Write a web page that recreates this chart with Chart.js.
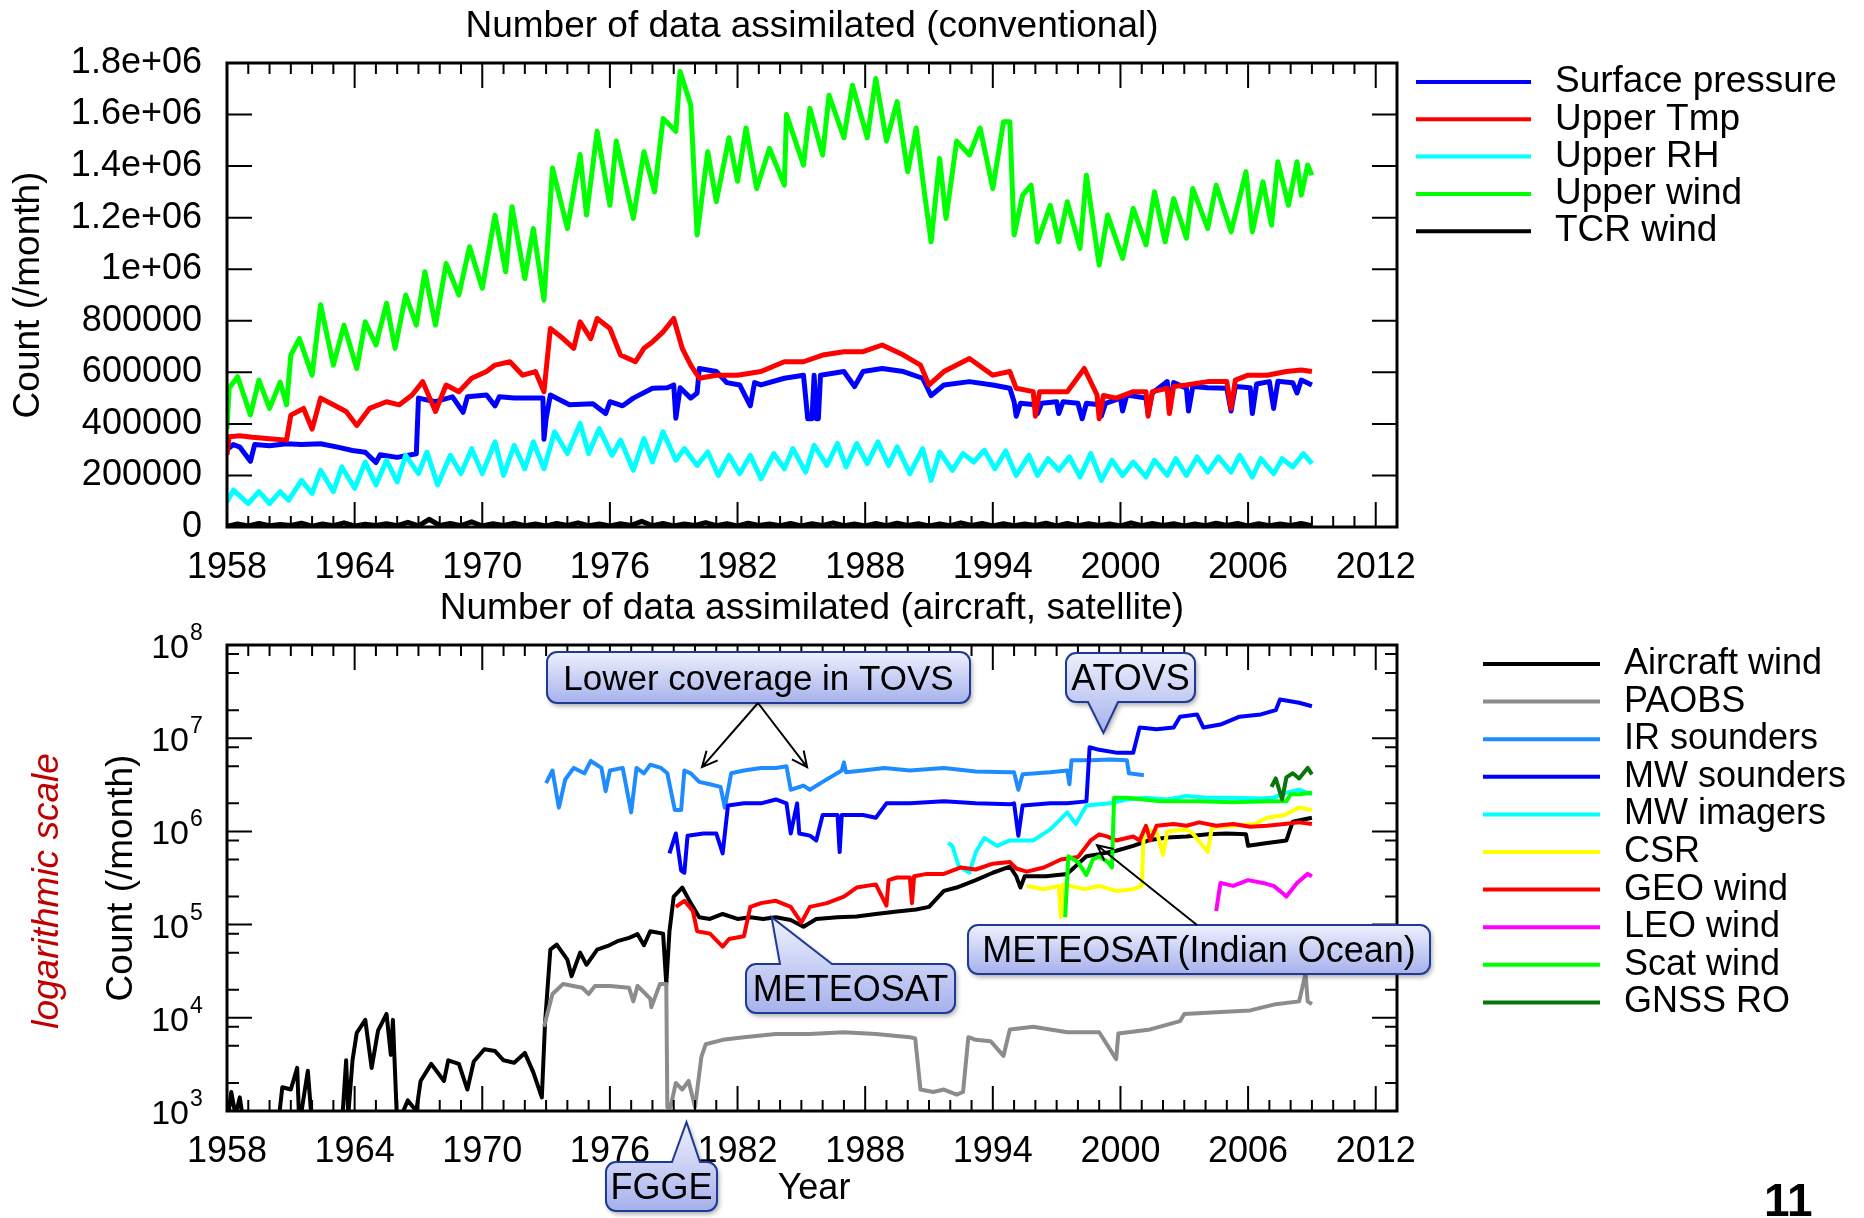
<!DOCTYPE html>
<html>
<head>
<meta charset="utf-8">
<title>Number of data assimilated</title>
<script src="https://cdn.jsdelivr.net/npm/chart.js@4.4.1/dist/chart.umd.min.js"></script>
<style>
  html, body { margin: 0; padding: 0; background: #fff; }
  #page { position: relative; width: 1864px; height: 1218px; overflow: hidden; background: #fff; }
  #conv { position: absolute; left: 0; top: 0; }
  #sat { position: absolute; left: 0; top: 580px; }
</style>
</head>
<body>
<div id="page">
  <canvas id="conv" width="1864" height="600"></canvas>
  <canvas id="sat" width="1864" height="638"></canvas>
</div>
<script>
// SECTION: data
const FONT = "'Liberation Sans', Arial, Helvetica, sans-serif";

// conventional observations, [year, thousands per month]
const surfacePressure = [
  [1958.0, 300], [1958.3, 320], [1958.6, 310], [1959.1, 255], [1959.3, 320], [1960.0, 315], [1960.8, 323],
  [1961.5, 320], [1962.4, 323], [1963.2, 310], [1963.9, 297], [1964.5, 290], [1965.0, 250], [1965.2, 280],
  [1966.0, 270], [1966.9, 284], [1967.0, 500], [1967.8, 486], [1968.6, 505], [1969.1, 445], [1969.3, 505],
  [1970.2, 512], [1970.6, 470], [1970.8, 505], [1971.5, 500], [1972.2, 500], [1972.85, 500], [1972.9, 340],
  [1973.0, 420], [1973.2, 512], [1974.1, 474], [1975.2, 478], [1975.8, 440], [1976.0, 486], [1976.6, 470],
  [1977.1, 500], [1978.0, 538], [1978.7, 540], [1979.0, 551], [1979.1, 422], [1979.3, 540], [1979.8, 500],
  [1980.1, 520], [1980.2, 615], [1981.0, 603], [1981.5, 560], [1982.1, 551], [1982.6, 470], [1982.8, 560],
  [1983.1, 551], [1984.2, 577], [1985.1, 589], [1985.3, 420], [1985.5, 420], [1985.6, 589], [1985.7, 420],
  [1985.8, 420], [1985.9, 589], [1987.0, 603], [1987.5, 545], [1987.9, 603], [1988.8, 615], [1989.8, 603],
  [1990.7, 577], [1991.1, 510], [1991.7, 551], [1992.9, 564], [1994.0, 551], [1994.8, 538], [1995.0, 486],
  [1995.1, 430], [1995.3, 480], [1996.0, 474], [1996.1, 440], [1996.3, 480], [1997.0, 486], [1997.1, 440],
  [1997.3, 486], [1998.0, 480], [1998.2, 420], [1998.4, 480], [1999.0, 474], [1999.1, 430], [1999.3, 480],
  [2000.0, 500], [2000.1, 450], [2000.3, 512], [2001.2, 500], [2001.3, 440], [2001.5, 520], [2002.2, 564],
  [2002.3, 450], [2002.5, 560], [2003.1, 538], [2003.2, 450], [2003.4, 545], [2004.1, 540], [2005.0, 538],
  [2005.2, 450], [2005.4, 545], [2006.1, 540], [2006.2, 440], [2006.4, 555], [2007.0, 564], [2007.2, 460],
  [2007.4, 565], [2008.1, 560], [2008.3, 520], [2008.5, 570], [2009.0, 551]
];
const upperTmp = [
  [1958.0, 280], [1958.1, 350], [1958.6, 354], [1959.2, 348], [1960.0, 342], [1960.8, 337], [1961.0, 434],
  [1961.6, 460], [1962.0, 380], [1962.4, 500], [1963.0, 474], [1963.6, 448], [1964.1, 394], [1964.7, 460],
  [1965.5, 486], [1966.1, 474], [1966.7, 512], [1967.2, 564], [1967.8, 448], [1968.3, 551], [1968.9, 525],
  [1969.5, 577], [1970.2, 603], [1970.6, 628], [1971.3, 641], [1971.9, 589], [1972.5, 603], [1972.9, 525],
  [1973.2, 770], [1973.8, 731], [1974.3, 693], [1974.6, 796], [1975.1, 731], [1975.4, 809], [1976.0, 770],
  [1976.5, 667], [1977.2, 641], [1977.6, 693], [1978.0, 718], [1978.5, 757], [1979.0, 809], [1979.4, 693],
  [1979.8, 628], [1980.2, 577], [1981.0, 589], [1982.0, 589], [1983.1, 603], [1984.2, 641], [1985.1, 641],
  [1986.0, 667], [1987.0, 680], [1987.9, 680], [1988.8, 706], [1989.8, 667], [1990.6, 628], [1991.0, 551],
  [1991.7, 603], [1992.9, 654], [1994.0, 589], [1994.8, 603], [1995.1, 538], [1995.9, 525], [1996.0, 430],
  [1996.2, 525], [1997.5, 525], [1998.3, 615], [1998.9, 512], [1999.0, 420], [1999.2, 510], [1999.8, 500],
  [2000.6, 525], [2001.2, 525], [2001.3, 430], [2001.5, 525], [2002.2, 538], [2002.3, 440], [2002.5, 545],
  [2003.1, 551], [2004.1, 564], [2005.0, 564], [2005.2, 460], [2005.4, 570], [2006.0, 589], [2006.9, 589],
  [2007.8, 603], [2008.5, 609], [2009.0, 603]
];
const upperRH = [
  [1958.0, 98], [1958.3, 143], [1959.0, 91], [1959.5, 137], [1960.0, 91], [1960.5, 137], [1960.9, 104],
  [1961.5, 181], [1962.0, 130], [1962.4, 220], [1963.0, 137], [1963.4, 233], [1964.0, 150], [1964.5, 252],
  [1965.0, 163], [1965.5, 259], [1966.0, 175], [1966.4, 278], [1967.0, 207], [1967.4, 291], [1967.9, 163],
  [1968.5, 278], [1969.0, 207], [1969.5, 304], [1970.0, 207], [1970.6, 330], [1971.0, 200], [1971.5, 317],
  [1972.0, 226], [1972.4, 330], [1972.9, 226], [1973.4, 369], [1974.0, 285], [1974.6, 402], [1975.0, 285],
  [1975.5, 382], [1976.1, 278], [1976.5, 337], [1977.1, 220], [1977.6, 343], [1978.0, 252], [1978.5, 369],
  [1979.1, 259], [1979.5, 304], [1980.1, 239], [1980.6, 291], [1981.1, 200], [1981.6, 278], [1982.1, 207],
  [1982.6, 278], [1983.1, 187], [1983.7, 285], [1984.2, 226], [1984.6, 304], [1985.2, 213], [1985.6, 317],
  [1986.2, 239], [1986.7, 324], [1987.1, 233], [1987.6, 324], [1988.1, 246], [1988.6, 330], [1989.1, 239],
  [1989.5, 311], [1990.1, 207], [1990.7, 304], [1991.1, 181], [1991.5, 291], [1992.1, 220], [1992.6, 285],
  [1993.1, 252], [1993.6, 298], [1994.1, 226], [1994.6, 295], [1995.1, 200], [1995.7, 278], [1996.1, 200],
  [1996.6, 265], [1997.1, 220], [1997.6, 272], [1998.1, 194], [1998.6, 285], [1999.1, 181], [1999.6, 259],
  [2000.1, 200], [2000.6, 252], [2001.2, 194], [2001.6, 259], [2002.2, 200], [2002.6, 265], [2003.1, 200],
  [2003.6, 272], [2004.1, 213], [2004.6, 272], [2005.2, 213], [2005.6, 278], [2006.2, 194], [2006.6, 265],
  [2007.2, 207], [2007.6, 265], [2008.1, 233], [2008.6, 285], [2009.0, 246]
];
const upperWind = [
  [1958.0, 380], [1958.1, 539], [1958.5, 583], [1959.1, 435], [1959.5, 570], [1960.0, 460], [1960.5, 562],
  [1960.8, 474], [1961.0, 667], [1961.4, 731], [1962.0, 589], [1962.4, 862], [1963.0, 628], [1963.5, 783],
  [1964.1, 615], [1964.5, 796], [1965.0, 706], [1965.5, 868], [1965.9, 693], [1966.4, 900], [1966.9, 783],
  [1967.3, 990], [1967.8, 783], [1968.3, 1022], [1968.9, 900], [1969.4, 1087], [1970.0, 926], [1970.6, 1210],
  [1971.1, 990], [1971.4, 1242], [1972.0, 964], [1972.4, 1158], [1972.9, 880], [1973.3, 1393], [1974.0, 1158],
  [1974.6, 1445], [1974.9, 1210], [1975.4, 1535], [1976.0, 1248], [1976.3, 1497], [1977.1, 1197], [1977.6, 1456],
  [1978.1, 1300], [1978.5, 1585], [1979.1, 1535], [1979.3, 1767], [1979.8, 1637], [1980.1, 1133], [1980.6, 1456],
  [1981.0, 1262], [1981.6, 1510], [1982.0, 1341], [1982.4, 1548], [1982.9, 1313], [1983.5, 1469], [1984.2, 1326],
  [1984.3, 1600], [1985.1, 1404], [1985.4, 1624], [1986.0, 1443], [1986.3, 1675], [1987.0, 1510], [1987.4, 1714],
  [1988.1, 1510], [1988.5, 1740], [1989.0, 1497], [1989.5, 1650], [1990.0, 1378], [1990.4, 1548], [1990.8, 1287],
  [1991.1, 1106], [1991.5, 1430], [1991.8, 1197], [1992.3, 1497], [1992.9, 1443], [1993.4, 1548], [1994.0, 1313],
  [1994.5, 1572], [1994.8, 1572], [1995.0, 1133], [1995.4, 1287], [1995.8, 1326], [1996.1, 1106], [1996.7, 1248],
  [1997.1, 1106], [1997.5, 1262], [1998.1, 1081], [1998.4, 1365], [1999.0, 1016], [1999.4, 1210], [2000.1, 1042],
  [2000.6, 1236], [2001.2, 1094], [2001.6, 1300], [2002.1, 1106], [2002.5, 1274], [2003.1, 1120], [2003.4, 1313],
  [2004.1, 1158], [2004.5, 1326], [2005.2, 1145], [2005.9, 1378], [2006.2, 1145], [2006.7, 1339], [2007.1, 1171],
  [2007.4, 1417], [2007.9, 1248], [2008.3, 1417], [2008.5, 1287], [2008.8, 1404], [2009.0, 1365]
];
const tcrWindStart = 1958;
const tcrWindStep = 0.5;
const tcrWind = [
  3, 12, 4, 14, 5, 10, 6, 15, 3, 12, 5, 16, 4, 11, 6, 13, 5, 18, 4, 30, 6, 14, 5, 20, 4, 13,
  6, 15, 5, 12, 4, 14, 6, 16, 5, 12, 4, 13, 6, 22, 5, 14, 4, 12, 6, 17, 5, 13, 4, 15, 6, 12,
  5, 14, 4, 13, 6, 16, 5, 12, 4, 14, 5, 15, 6, 13, 4, 12, 5, 16, 6, 14, 4, 13, 5, 12, 6, 15,
  4, 14, 5, 13, 6, 12, 4, 16, 5, 14, 6, 13, 4, 12, 5, 15, 6, 14, 4, 13, 5, 12, 6, 14, 5
];

// aircraft and satellite observations, [year, count per month]
const aircraftWind = [
  [1958.0, 700], [1958.2, 1600], [1958.4, 900], [1958.6, 1400], [1958.8, 700], [1960.4, 700], [1960.6, 1800],
  [1961.0, 1700], [1961.3, 2900], [1961.4, 700], [1961.8, 2700], [1962.0, 700], [1963.4, 700], [1963.6, 3500],
  [1963.7, 900], [1963.9, 3500], [1964.1, 6900], [1964.5, 9500], [1964.8, 2900], [1965.1, 7300], [1965.5, 11000],
  [1965.7, 4000], [1965.8, 9500], [1966.0, 700], [1966.5, 1300], [1966.9, 1000], [1967.1, 2100], [1967.6, 3200],
  [1968.2, 2100], [1968.4, 3500], [1968.9, 3200], [1969.3, 1700], [1969.6, 3400], [1970.1, 4600], [1970.6, 4400],
  [1971.0, 3500], [1971.5, 3300], [1972.0, 4200], [1972.4, 2600], [1972.8, 1400], [1972.95, 8700], [1973.2, 54000],
  [1973.5, 61000], [1974.0, 42000], [1974.2, 28000], [1974.6, 50000], [1974.9, 37000], [1975.4, 54000],
  [1975.9, 59000], [1976.4, 67000], [1976.9, 72000], [1977.3, 79000], [1977.6, 60000], [1977.9, 85000],
  [1978.5, 80000], [1978.65, 23000], [1978.8, 85000], [1979.0, 200000], [1979.4, 250000], [1979.8, 170000],
  [1980.2, 120000], [1980.7, 115000], [1981.3, 130000], [1982.0, 115000], [1982.6, 120000], [1983.2, 115000],
  [1983.8, 120000], [1984.5, 112000], [1985.1, 95000], [1985.7, 115000], [1986.7, 120000], [1987.6, 122000],
  [1988.5, 130000], [1989.5, 138000], [1990.4, 145000], [1991.0, 155000], [1991.7, 230000], [1992.3, 250000],
  [1993.2, 300000], [1994.0, 360000], [1994.8, 420000], [1995.1, 330000], [1995.3, 250000], [1995.5, 330000],
  [1996.5, 330000], [1997.5, 350000], [1998.4, 540000], [1999.0, 570000], [1999.8, 620000], [2000.6, 700000],
  [2001.4, 810000], [2002.2, 860000], [2003.1, 880000], [2004.1, 930000], [2005.0, 950000], [2005.9, 930000],
  [2006.0, 700000], [2006.9, 750000], [2007.8, 800000], [2008.1, 1270000], [2009.0, 1400000]
];
const paobs = [
  [1972.9, 8000], [1973.3, 18000], [1973.8, 23000], [1974.7, 21000], [1975.0, 18000], [1975.3, 22000],
  [1976.0, 22000], [1976.9, 21000], [1977.1, 15000], [1977.3, 22000], [1977.9, 16000], [1977.95, 13000],
  [1978.35, 23000], [1978.65, 23000], [1978.7, 1100], [1978.85, 1100], [1979.1, 2000], [1979.4, 1700],
  [1979.7, 2100], [1980.0, 1100], [1980.3, 3800], [1980.5, 5200], [1981.3, 5800], [1982.3, 6200], [1983.8, 6700],
  [1985.4, 6700], [1987.0, 7000], [1988.5, 6700], [1990.1, 6200], [1990.35, 6000], [1990.6, 1700], [1991.2, 1600],
  [1991.7, 1700], [1992.3, 1500], [1992.6, 1600], [1992.85, 6200], [1993.2, 5800], [1993.9, 5600], [1994.5, 3900],
  [1994.8, 7500], [1995.9, 8000], [1997.5, 7000], [1999.0, 7000], [1999.8, 3600], [1999.9, 6800], [2001.4, 7500],
  [2002.8, 9200], [2003.0, 11000], [2004.5, 11500], [2006.1, 12000], [2007.3, 14000], [2008.4, 15000],
  [2008.7, 30000], [2008.8, 15000], [2009.0, 14000]
];
const irSounders = [
  [1973.0, 3300000], [1973.3, 4500000], [1973.6, 1800000], [1973.9, 3600000], [1974.3, 4800000], [1974.8, 4200000],
  [1975.1, 5700000], [1975.6, 4800000], [1975.8, 2700000], [1976.0, 4500000], [1976.6, 4800000], [1977.0, 1600000],
  [1977.25, 4800000], [1977.6, 4200000], [1977.9, 5200000], [1978.4, 4800000], [1978.7, 4200000], [1979.05, 1700000],
  [1979.35, 1700000], [1979.5, 4500000], [1979.8, 4200000], [1980.2, 3400000], [1980.7, 3200000], [1981.2, 3000000],
  [1981.4, 1800000], [1981.7, 4200000], [1982.3, 4500000], [1983.1, 4800000], [1983.8, 4800000], [1984.3, 5000000],
  [1984.5, 2800000], [1985.1, 3100000], [1985.4, 2800000], [1986.0, 3400000], [1986.9, 4500000], [1987.0, 5500000],
  [1987.1, 4300000], [1987.9, 4500000], [1988.9, 4800000], [1990.1, 4500000], [1991.7, 4800000], [1993.2, 4400000],
  [1994.8, 4300000], [1995.0, 4300000], [1995.2, 2800000], [1995.4, 4100000], [1996.7, 4300000], [1997.5, 4500000],
  [1997.6, 3200000], [1997.7, 5800000], [1998.6, 5800000], [1999.5, 5900000], [2000.3, 5800000], [2000.4, 4200000],
  [2001.1, 4000000]
];
const mwSounders = [
  [1978.8, 580000], [1979.1, 950000], [1979.35, 380000], [1979.5, 360000], [1979.65, 900000], [1980.4, 950000],
  [1981.0, 950000], [1981.3, 580000], [1981.55, 1900000], [1982.3, 2000000], [1983.1, 2000000], [1983.8, 2200000],
  [1984.3, 2000000], [1984.5, 950000], [1984.8, 2000000], [1984.9, 950000], [1985.4, 900000], [1985.7, 800000],
  [1986.0, 1500000], [1986.7, 1500000], [1986.8, 600000], [1986.9, 1500000], [1987.9, 1500000], [1988.5, 1400000],
  [1989.0, 2000000], [1990.1, 2000000], [1991.7, 2100000], [1993.2, 2000000], [1994.8, 1950000], [1995.0, 2000000],
  [1995.2, 900000], [1995.4, 1900000], [1996.7, 2000000], [1997.5, 2000000], [1998.4, 2100000], [1998.55, 8000000],
  [1999.0, 7500000], [1999.8, 7000000], [2000.6, 7000000], [2000.9, 13000000], [2001.7, 12500000], [2002.5, 13000000],
  [2002.8, 17000000], [2003.6, 18000000], [2003.9, 13000000], [2004.7, 14000000], [2005.6, 17000000],
  [2006.6, 18000000], [2007.3, 20000000], [2007.5, 26000000], [2008.4, 24000000], [2009.0, 22000000]
];
const mwImagers = [
  [1991.9, 750000], [1992.1, 700000], [1992.4, 420000], [1992.9, 360000], [1993.2, 600000], [1993.6, 850000],
  [1994.2, 700000], [1994.8, 800000], [1995.9, 800000], [1996.7, 1050000], [1997.5, 1600000], [1997.9, 1200000],
  [1998.4, 1900000], [1999.5, 2000000], [2000.3, 2200000], [2001.2, 2300000], [2002.2, 2200000], [2003.1, 2400000],
  [2004.1, 2300000], [2005.3, 2300000], [2006.6, 2250000], [2007.2, 2300000], [2007.8, 2600000], [2008.4, 2800000],
  [2009.0, 2500000]
];
const csr = [
  [1995.6, 260000], [1996.4, 240000], [1997.1, 260000], [1997.2, 120000], [1997.3, 270000], [1998.3, 240000],
  [1999.0, 260000], [1999.8, 230000], [2000.6, 240000], [2001.0, 260000], [2001.1, 1050000], [2001.7, 1000000],
  [2002.0, 560000], [2002.2, 1000000], [2003.1, 1050000], [2003.4, 950000], [2004.1, 600000], [2004.3, 1100000],
  [2005.3, 1150000], [2006.3, 1200000], [2006.9, 1400000], [2007.7, 1500000], [2008.4, 1800000], [2009.0, 1700000]
];
const geoWind = [
  [1979.1, 155000], [1979.5, 180000], [1979.9, 140000], [1980.1, 85000], [1980.7, 80000], [1981.3, 58000],
  [1981.6, 70000], [1982.3, 75000], [1982.6, 155000], [1983.1, 170000], [1983.8, 180000], [1984.5, 155000],
  [1985.0, 105000], [1985.4, 155000], [1986.2, 170000], [1987.0, 200000], [1987.6, 250000], [1988.5, 270000],
  [1989.0, 160000], [1989.1, 300000], [1989.5, 320000], [1990.1, 320000], [1990.2, 170000], [1990.3, 330000],
  [1990.9, 350000], [1991.7, 350000], [1992.5, 410000], [1993.2, 390000], [1994.0, 450000], [1994.8, 470000],
  [1995.1, 400000], [1995.6, 370000], [1996.4, 410000], [1997.2, 500000], [1998.0, 530000], [1998.6, 800000],
  [1999.0, 930000], [1999.4, 880000], [1999.8, 800000], [2000.6, 880000], [2000.9, 800000], [2001.2, 1150000],
  [2001.4, 800000], [2001.7, 1150000], [2002.5, 1200000], [2003.1, 1150000], [2003.7, 1250000], [2004.5, 1150000],
  [2005.3, 1200000], [2006.1, 1120000], [2006.9, 1150000], [2007.7, 1200000], [2008.4, 1250000], [2009.0, 1200000]
];
const leoWind = [
  [2004.5, 140000], [2004.7, 280000], [2005.3, 260000], [2006.0, 300000], [2006.7, 280000], [2007.2, 260000],
  [2007.7, 210000], [2007.8, 200000], [2008.3, 280000], [2008.8, 350000], [2009.0, 330000]
];
const scatWind = [
  [1997.4, 120000], [1997.55, 540000], [1998.0, 470000], [1998.4, 340000], [1998.7, 500000], [1999.0, 540000],
  [1999.4, 470000], [1999.6, 410000], [1999.7, 2300000], [2000.3, 2300000], [2001.1, 2200000], [2001.9, 2100000],
  [2003.0, 2100000], [2003.7, 2100000], [2005.3, 2050000], [2006.9, 2100000], [2007.8, 2100000], [2008.0, 2500000],
  [2008.4, 2500000], [2009.0, 2600000]
];
const gnssRO = [
  [2007.1, 3000000], [2007.3, 3700000], [2007.6, 2200000], [2007.8, 3800000], [2008.1, 4200000], [2008.4, 3700000],
  [2008.8, 4800000], [2009.0, 4100000]
];

// axis ticks
const yearTicks = [1958, 1964, 1970, 1976, 1982, 1988, 1994, 2000, 2006, 2012];
const countTicks = [0, 200000, 400000, 600000, 800000, 1000000, 1200000, 1400000, 1600000, 1800000];
const countTickLabels = ['0', '200000', '400000', '600000', '800000', '1e+06', '1.2e+06', '1.4e+06', '1.6e+06', '1.8e+06'];
const decadeTicks = [1e3, 1e4, 1e5, 1e6, 1e7, 1e8];
const decadeExponents = ['3', '4', '5', '6', '7', '8'];
const minorMultipliers = [2, 5, 8];

// SECTION: helpers
const pairsToPoints = (pairs, unit = 1) => pairs.map(([x, y]) => ({ x, y: y * unit }));
const seriesToPoints = (start, step, values, unit = 1) =>
  values.map((v, i) => ({ x: start + i * step, y: v * unit }));

const drawText = (ctx, text, x, y, { font, color = '#000', align = 'center', baseline = 'alphabetic', rotate = 0 }) => {
  ctx.save();
  ctx.translate(x, y);
  if (rotate) ctx.rotate(rotate);
  ctx.font = font;
  ctx.fillStyle = color;
  ctx.textAlign = align;
  ctx.textBaseline = baseline;
  ctx.fillText(text, 0, 0);
  ctx.restore();
};

// inward ticks and the box, gnuplot style
const framePlugin = (yTickList) => ({
  id: 'frame',
  afterDatasetsDraw(chart) {
    const { ctx, chartArea: a } = chart;
    const x = chart.scales.x;
    const y = chart.scales.y;
    ctx.save();
    ctx.strokeStyle = '#000';
    ctx.lineWidth = 2;
    ctx.beginPath();
    for (let yr = x.min + 1; yr < x.max; yr++) {
      const px = x.getPixelForValue(yr);
      const len = yearTicks.includes(yr) ? 25 : 11;
      ctx.moveTo(px, a.bottom); ctx.lineTo(px, a.bottom - len);
      ctx.moveTo(px, a.top); ctx.lineTo(px, a.top + len);
    }
    yTickList.forEach(([v, len]) => {
      const py = y.getPixelForValue(v);
      ctx.moveTo(a.left, py); ctx.lineTo(a.left + len, py);
      ctx.moveTo(a.right, py); ctx.lineTo(a.right - len, py);
    });
    ctx.stroke();
    ctx.lineWidth = 3;
    ctx.strokeRect(a.left, a.top, a.width, a.height);
    ctx.restore();
  }
});

const drawLegend = (chart, cfg) => {
  const { ctx } = chart;
  chart.data.datasets.forEach((ds, i) => {
    const yy = cfg.y0 + i * cfg.dy;
    ctx.save();
    ctx.strokeStyle = ds.borderColor;
    ctx.lineWidth = 4;
    ctx.beginPath();
    ctx.moveTo(cfg.x1, yy);
    ctx.lineTo(cfg.x2, yy);
    ctx.stroke();
    ctx.restore();
    drawText(ctx, ds.label, cfg.textX, yy, { font: cfg.font, align: 'left', baseline: 'middle' });
  });
};

const calloutPath = (ctx, x, y, w, h, r, ptr) => {
  ctx.beginPath();
  ctx.moveTo(x + r, y);
  if (ptr && ptr.side === 'top') {
    ctx.lineTo(ptr.x1, y); ctx.lineTo(ptr.tx, ptr.ty); ctx.lineTo(ptr.x2, y);
  }
  ctx.lineTo(x + w - r, y);
  ctx.arcTo(x + w, y, x + w, y + r, r);
  ctx.lineTo(x + w, y + h - r);
  ctx.arcTo(x + w, y + h, x + w - r, y + h, r);
  if (ptr && ptr.side === 'bottom') {
    ctx.lineTo(ptr.x2, y + h); ctx.lineTo(ptr.tx, ptr.ty); ctx.lineTo(ptr.x1, y + h);
  }
  ctx.lineTo(x + r, y + h);
  ctx.arcTo(x, y + h, x, y + h - r, r);
  ctx.lineTo(x, y + r);
  ctx.arcTo(x, y, x + r, y, r);
  ctx.closePath();
};

const drawArrow = (ctx, fx, fy, tx, ty) => {
  const ang = Math.atan2(ty - fy, tx - fx);
  const head = 17;
  ctx.save();
  ctx.strokeStyle = '#000';
  ctx.lineWidth = 2;
  ctx.beginPath();
  ctx.moveTo(fx, fy);
  ctx.lineTo(tx, ty);
  ctx.moveTo(tx - head * Math.cos(ang - 0.45), ty - head * Math.sin(ang - 0.45));
  ctx.lineTo(tx, ty);
  ctx.lineTo(tx - head * Math.cos(ang + 0.45), ty - head * Math.sin(ang + 0.45));
  ctx.stroke();
  ctx.restore();
};

const drawCallout = (chart, c) => {
  const { ctx } = chart;
  const x = chart.scales.x;
  const y = chart.scales.y;
  const [bx, by, bw, bh] = c.box;
  let ptr = null;
  if (c.pointer) {
    ptr = { ...c.pointer, tx: x.getPixelForValue(c.pointer.to[0]), ty: y.getPixelForValue(c.pointer.to[1]) };
  }
  const top = ptr && ptr.side === 'top' ? ptr.ty : by;
  const bottom = ptr && ptr.side === 'bottom' ? ptr.ty : by + bh;
  ctx.save();
  const grad = ctx.createLinearGradient(0, top, 0, bottom);
  grad.addColorStop(0, '#eef0fd');
  grad.addColorStop(1, '#a6b1ec');
  calloutPath(ctx, bx, by, bw, bh, 10, ptr);
  ctx.shadowColor = 'rgba(0, 0, 0, 0.35)';
  ctx.shadowBlur = 5;
  ctx.shadowOffsetX = 2;
  ctx.shadowOffsetY = 3;
  ctx.fillStyle = grad;
  ctx.fill();
  ctx.shadowColor = 'transparent';
  ctx.strokeStyle = '#1f3a94';
  ctx.lineWidth = 2;
  ctx.stroke();
  ctx.restore();
  const size = c.size || 36;
  drawText(ctx, c.text, bx + bw / 2, by + bh / 2 + size * 0.36, { font: `${size}px ${FONT}` });
  (c.arrows || []).forEach((a) => {
    drawArrow(ctx, a.from[0], a.from[1], x.getPixelForValue(a.to[0]), y.getPixelForValue(a.to[1]));
  });
};

const decorPlugin = (cfg) => ({
  id: 'decor',
  afterDraw(chart) {
    const { ctx } = chart;
    cfg.texts.forEach((t) => drawText(ctx, t.text, t.x, t.y, t));
    drawLegend(chart, cfg.legend);
    if (cfg.logLabels) {
      const y = chart.scales.y;
      decadeTicks.forEach((v, i) => {
        const py = y.getPixelForValue(v);
        drawText(ctx, '10', 189, py + 13, { font: `34px ${FONT}`, align: 'right' });
        drawText(ctx, decadeExponents[i], 190, py - 5, { font: `23px ${FONT}`, align: 'left' });
      });
    }
    (cfg.callouts || []).forEach((c) => drawCallout(chart, c));
  }
});

const xScale = (axisHeight) => ({
  type: 'linear',
  min: 1958,
  max: 2013,
  grid: { display: false, drawTicks: false },
  border: { display: false },
  afterBuildTicks: (s) => { s.ticks = yearTicks.map((v) => ({ value: v })); },
  afterFit: (s) => { s.height = axisHeight; },
  ticks: {
    autoSkip: false, maxRotation: 0, padding: 19, color: '#000',
    font: { family: FONT, size: 36 },
    callback: (v) => String(v)
  }
});

// SECTION: conventional chart
const convSeries = [
  { label: 'Surface pressure', color: '#0000ff', data: pairsToPoints(surfacePressure, 1000) },
  { label: 'Upper Tmp', color: '#ff0000', data: pairsToPoints(upperTmp, 1000) },
  { label: 'Upper RH', color: '#00ffff', data: pairsToPoints(upperRH, 1000) },
  { label: 'Upper wind', color: '#00ff00', data: pairsToPoints(upperWind, 1000) },
  { label: 'TCR wind', color: '#000000', data: seriesToPoints(tcrWindStart, tcrWindStep, tcrWind, 1000) }
];

new Chart(document.getElementById('conv'), {
  type: 'line',
  data: {
    datasets: convSeries.map((s, i) => ({
      label: s.label, data: s.data, borderColor: s.color, borderWidth: 5,
      pointRadius: 0, tension: 0, borderJoinStyle: 'round', order: -i
    }))
  },
  options: {
    responsive: false,
    animation: false,
    events: [],
    layout: { padding: { top: 63, right: 467, left: 0, bottom: 0 } },
    plugins: { legend: { display: false }, tooltip: { enabled: false } },
    scales: {
      x: xScale(73),
      y: {
        min: 0,
        max: 1800000,
        grid: { display: false, drawTicks: false },
        border: { display: false },
        afterBuildTicks: (s) => { s.ticks = countTicks.map((v) => ({ value: v })); },
        afterFit: (s) => { s.width = 227; },
        ticks: {
          padding: 25, color: '#000', font: { family: FONT, size: 36 },
          callback: (v, i) => countTickLabels[i]
        }
      }
    }
  },
  plugins: [
    framePlugin(countTicks.slice(1, -1).map((v) => [v, 25])),
    decorPlugin({
      texts: [
        { text: 'Number of data assimilated (conventional)', x: 812, y: 37, font: `37px ${FONT}` },
        { text: 'Count (/month)', x: 29, y: 295, font: `37px ${FONT}`, baseline: 'middle', rotate: -Math.PI / 2 }
      ],
      legend: { x1: 1416, x2: 1531, textX: 1555, y0: 82, dy: 37.3, font: `37px ${FONT}` }
    })
  ]
});

// SECTION: aircraft / satellite chart
const satSeries = [
  { label: 'Aircraft wind', color: '#000000', data: aircraftWind },
  { label: 'PAOBS', color: '#8c8c8c', data: paobs },
  { label: 'IR sounders', color: '#1e8cff', data: irSounders },
  { label: 'MW sounders', color: '#0000ff', data: mwSounders },
  { label: 'MW imagers', color: '#00ffff', data: mwImagers },
  { label: 'CSR', color: '#ffff00', data: csr },
  { label: 'GEO wind', color: '#ff0000', data: geoWind },
  { label: 'LEO wind', color: '#ff00ff', data: leoWind },
  { label: 'Scat wind', color: '#00ff00', data: scatWind },
  { label: 'GNSS RO', color: '#087508', data: gnssRO }
];

const logTickList = [];
decadeTicks.forEach((d, i) => {
  if (i > 0 && i < decadeTicks.length - 1) logTickList.push([d, 25]);
  if (i < decadeTicks.length - 1) minorMultipliers.forEach((m) => logTickList.push([m * d, 12]));
});

new Chart(document.getElementById('sat'), {
  type: 'line',
  data: {
    datasets: satSeries.map((s, i) => ({
      label: s.label, data: pairsToPoints(s.data), borderColor: s.color, borderWidth: 4,
      pointRadius: 0, tension: 0, borderJoinStyle: 'round', order: -i
    }))
  },
  options: {
    responsive: false,
    animation: false,
    events: [],
    layout: { padding: { top: 65, right: 467, left: 0, bottom: 0 } },
    plugins: { legend: { display: false }, tooltip: { enabled: false } },
    scales: {
      x: xScale(107),
      y: {
        type: 'logarithmic',
        min: 1e3,
        max: 1e8,
        grid: { display: false, drawTicks: false },
        border: { display: false },
        afterBuildTicks: (s) => { s.ticks = decadeTicks.map((v) => ({ value: v })); },
        afterFit: (s) => { s.width = 227; },
        ticks: { display: false }
      }
    }
  },
  plugins: [
    framePlugin(logTickList),
    decorPlugin({
      texts: [
        { text: 'Number of data assimilated (aircraft, satellite)', x: 812, y: 39, font: `37px ${FONT}` },
        { text: 'Year', x: 814, y: 619, font: `36px ${FONT}` },
        { text: 'Count (/month)', x: 122, y: 298, font: `37px ${FONT}`, baseline: 'middle', rotate: -Math.PI / 2 },
        { text: 'logarithmic scale', x: 48, y: 311, font: `italic 37px ${FONT}`, color: '#c00000', baseline: 'middle', rotate: -Math.PI / 2 },
        { text: '11', x: 1764, y: 636, font: `bold 46px ${FONT}`, align: 'left' }
      ],
      legend: { x1: 1483, x2: 1600, textX: 1624, y0: 84, dy: 37.6, font: `36px ${FONT}` },
      logLabels: true,
      callouts: [
        {
          text: 'Lower coverage in TOVS', box: [547, 72, 423, 51], size: 35,
          arrows: [{ from: [758, 123], to: [1980.33, 4.9e6] }, { from: [758, 123], to: [1985.27, 4.9e6] }]
        },
        { text: 'ATOVS', box: [1066, 73, 129, 49], pointer: { side: 'bottom', x1: 1088, x2: 1118, to: [1999.2, 1.14e7] } },
        { text: 'METEOSAT(Indian Ocean)', box: [968, 345, 462, 49], arrows: [{ from: [1197, 345], to: [1998.9, 7.1e5] }] },
        { text: 'METEOSAT', box: [746, 384, 209, 49], pointer: { side: 'top', x1: 780, x2: 832, to: [1983.6, 1.2e5] } },
        { text: 'FGGE', box: [606, 582, 111, 49], pointer: { side: 'top', x1: 672, x2: 700, to: [1979.6, 760] } }
      ]
    })
  ]
});
</script>
</body>
</html>
